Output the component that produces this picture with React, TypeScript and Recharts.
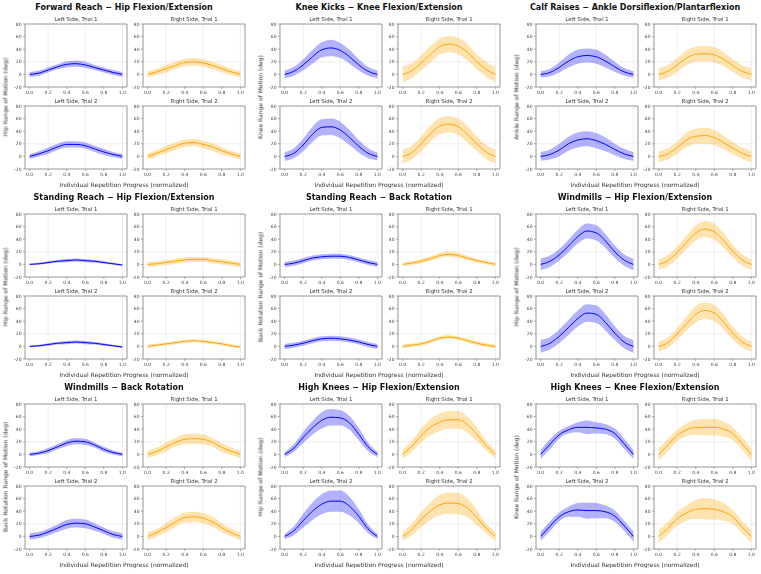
import {
  ComposedChart,
  Area,
  Line,
  XAxis,
  YAxis,
  CartesianGrid,
  ReferenceLine,
} from 'recharts'

const X_VALUES = [0, 0.1, 0.2, 0.3, 0.4, 0.5, 0.6, 0.7, 0.8, 0.9, 1.0]
const X_TICKS = [0, 0.2, 0.4, 0.6, 0.8, 1.0]
const Y_TICKS = [-20, 0, 20, 40, 60, 80]
const PANEL_TITLES = ['Left Side, Trial 1', 'Right Side, Trial 1', 'Left Side, Trial 2', 'Right Side, Trial 2']

// each block: [left t1, right t1, left t2, right t2]
const FORWARD_REACH_HIP_MEAN = [
  [0, 2, 7, 12, 16, 17, 15, 11, 7, 3, 0],
  [0, 4, 9, 14, 19, 20, 18, 14, 9, 4, 0],
  [0, 4, 9, 15, 19, 19, 17, 12, 7, 3, 0],
  [0, 5, 11, 16, 21, 22, 19, 15, 9, 4, 0],
]
const FORWARD_REACH_HIP_SD = [
  [4, 4, 4, 4, 5, 5, 5, 4, 4, 4, 4],
  [5, 5, 6, 6, 6, 6, 6, 6, 6, 5, 5],
  [4, 4, 5, 5, 5, 5, 5, 5, 5, 4, 4],
  [5, 5, 6, 6, 6, 6, 6, 6, 6, 5, 5],
]

const KNEE_KICKS_KNEE_MEAN = [
  [0, 5, 15, 28, 39, 42, 38, 28, 15, 5, 0],
  [0, 6, 18, 32, 44, 48, 45, 35, 20, 8, 0],
  [0, 5, 18, 35, 46, 47, 42, 30, 16, 5, 0],
  [0, 6, 20, 36, 48, 51, 47, 35, 20, 7, 0],
]
const KNEE_KICKS_KNEE_SD = [
  [6, 7, 9, 11, 12, 13, 12, 11, 9, 7, 6],
  [12, 12, 12, 13, 13, 13, 13, 13, 12, 12, 12],
  [7, 8, 10, 12, 13, 13, 13, 12, 10, 8, 6],
  [11, 11, 12, 13, 13, 13, 13, 13, 12, 11, 11],
]

const CALF_RAISES_ANKLE_MEAN = [
  [0, 3, 11, 21, 28, 30, 28, 21, 12, 4, 0],
  [0, 5, 15, 26, 32, 33, 31, 24, 14, 5, 0],
  [0, 3, 10, 20, 26, 28, 25, 19, 11, 4, 0],
  [0, 4, 14, 26, 32, 33, 30, 22, 13, 5, 0],
]
const CALF_RAISES_ANKLE_SD = [
  [5, 6, 8, 10, 11, 11, 11, 10, 8, 6, 5],
  [10, 10, 11, 12, 12, 12, 12, 11, 10, 10, 10],
  [7, 8, 10, 11, 12, 12, 12, 11, 9, 8, 7],
  [9, 9, 10, 12, 12, 13, 12, 11, 10, 9, 9],
]

const STANDING_REACH_HIP_MEAN = [
  [0, 1, 3, 5, 6, 7, 6, 5, 3, 1, -1],
  [0, 1, 3, 5, 7, 8, 8, 6, 4, 2, 0],
  [0, 1, 3, 5, 6, 7, 6, 5, 3, 1, -1],
  [0, 2, 4, 6, 8, 9, 8, 6, 4, 1, -1],
]
const STANDING_REACH_HIP_SD = [
  [1.5, 1.5, 2, 2, 2.5, 2.5, 2.5, 2, 2, 1.5, 1.5],
  [4, 4, 4, 4, 4, 4, 4, 4, 4, 4, 4],
  [1.5, 1.5, 2, 2, 2.5, 2.5, 2.5, 2, 2, 1.5, 1.5],
  [2.5, 2.5, 2.5, 2.5, 2.5, 2.5, 2.5, 2.5, 2.5, 2.5, 2.5],
]

const STANDING_REACH_BACK_MEAN = [
  [0, 2, 6, 10, 12, 13, 13, 11, 7, 3, 0],
  [0, 2, 5, 9, 14, 16, 14, 10, 6, 3, 0],
  [0, 2, 5, 9, 12, 13, 12, 10, 7, 3, 0],
  [0, 2, 4, 8, 13, 15, 13, 9, 5, 2, 0],
]
const STANDING_REACH_BACK_SD = [
  [4, 4, 4, 4, 4, 4, 4, 4, 4, 4, 4],
  [3, 3, 3, 3.5, 4, 4, 4, 3.5, 3, 3, 3],
  [4, 4, 4, 4, 4, 4, 4, 4, 4, 4, 4],
  [3, 3, 3, 3, 3, 3, 3, 3, 3, 3, 3],
]

const WINDMILLS_HIP_MEAN = [
  [0, 5, 15, 29, 44, 53, 50, 37, 20, 7, 0],
  [0, 6, 19, 35, 50, 56, 52, 38, 21, 7, 0],
  [0, 5, 16, 30, 44, 53, 51, 38, 21, 7, 0],
  [0, 6, 20, 36, 51, 57, 53, 39, 21, 7, 0],
]
const WINDMILLS_HIP_SD = [
  [9, 9, 9, 10, 11, 12, 12, 11, 10, 9, 9],
  [8, 9, 10, 11, 12, 13, 13, 12, 10, 9, 8],
  [10, 10, 11, 12, 13, 14, 14, 13, 11, 10, 10],
  [8, 8, 9, 11, 13, 13, 13, 12, 10, 9, 8],
]

const WINDMILLS_BACK_MEAN = [
  [0, 2, 6, 12, 18, 21, 20, 15, 8, 3, 0],
  [0, 5, 12, 19, 24, 25, 24, 19, 11, 5, 0],
  [0, 2, 7, 13, 19, 21, 20, 15, 9, 3, 0],
  [0, 6, 14, 23, 30, 31, 29, 23, 14, 6, 0],
]
const WINDMILLS_BACK_SD = [
  [3, 3, 4, 4, 5, 5, 5, 4, 4, 3, 3],
  [6, 6, 7, 7, 8, 8, 8, 7, 7, 6, 6],
  [5, 5, 5, 6, 7, 7, 7, 6, 5, 5, 5],
  [6, 6, 7, 8, 8, 8, 8, 8, 7, 6, 6],
]

const HIGH_KNEES_HIP_MEAN = [
  [0, 10, 27, 42, 54, 59, 58, 50, 32, 12, 0],
  [0, 13, 30, 43, 51, 55, 55, 47, 32, 14, 0],
  [0, 9, 25, 40, 51, 56, 56, 48, 32, 12, 0],
  [0, 11, 27, 40, 50, 53, 52, 45, 30, 13, 0],
]
const HIGH_KNEES_HIP_SD = [
  [4, 6, 9, 11, 13, 13, 12, 11, 10, 7, 4],
  [7, 9, 11, 13, 14, 14, 14, 13, 11, 8, 6],
  [4, 7, 11, 14, 16, 17, 17, 15, 11, 7, 4],
  [7, 9, 12, 14, 16, 17, 17, 15, 12, 8, 7],
]

const HIGH_KNEES_KNEE_MEAN = [
  [0, 16, 31, 39, 43, 43, 42, 40, 33, 17, 0],
  [0, 15, 30, 39, 43, 43, 43, 40, 33, 17, 0],
  [0, 16, 31, 39, 42, 41, 41, 39, 32, 17, 0],
  [0, 13, 28, 37, 43, 44, 43, 39, 31, 15, 0],
]
const HIGH_KNEES_KNEE_SD = [
  [7, 8, 6, 6, 8, 11, 9, 8, 8, 8, 7],
  [10, 10, 9, 10, 12, 13, 13, 12, 10, 10, 10],
  [7, 8, 7, 8, 11, 13, 12, 10, 9, 8, 8],
  [10, 10, 11, 12, 15, 17, 16, 14, 11, 10, 10],
]

const GROUPS = [
  { title: 'Forward Reach − Hip Flexion/Extension', ylabel: 'Hip Range of Motion (deg)', mean: FORWARD_REACH_HIP_MEAN, sd: FORWARD_REACH_HIP_SD },
  { title: 'Knee Kicks − Knee Flexion/Extension', ylabel: 'Knee Range of Motion (deg)', mean: KNEE_KICKS_KNEE_MEAN, sd: KNEE_KICKS_KNEE_SD },
  { title: 'Calf Raises − Ankle Dorsiflexion/Plantarflexion', ylabel: 'Ankle Range of Motion (deg)', mean: CALF_RAISES_ANKLE_MEAN, sd: CALF_RAISES_ANKLE_SD },
  { title: 'Standing Reach − Hip Flexion/Extension', ylabel: 'Hip Range of Motion (deg)', mean: STANDING_REACH_HIP_MEAN, sd: STANDING_REACH_HIP_SD },
  { title: 'Standing Reach − Back Rotation', ylabel: 'Back Rotation Range of Motion (deg)', mean: STANDING_REACH_BACK_MEAN, sd: STANDING_REACH_BACK_SD },
  { title: 'Windmills − Hip Flexion/Extension', ylabel: 'Hip Range of Motion (deg)', mean: WINDMILLS_HIP_MEAN, sd: WINDMILLS_HIP_SD },
  { title: 'Windmills − Back Rotation', ylabel: 'Back Rotation Range of Motion (deg)', mean: WINDMILLS_BACK_MEAN, sd: WINDMILLS_BACK_SD },
  { title: 'High Knees − Hip Flexion/Extension', ylabel: 'Hip Range of Motion (deg)', mean: HIGH_KNEES_HIP_MEAN, sd: HIGH_KNEES_HIP_SD },
  { title: 'High Knees − Knee Flexion/Extension', ylabel: 'Knee Range of Motion (deg)', mean: HIGH_KNEES_KNEE_MEAN, sd: HIGH_KNEES_KNEE_SD },
]

const FONT = '"DejaVu Sans", sans-serif'
const GROUP_LEFT = [25, 280, 536]
const GROUP_TOP = [24, 214, 404]
const PLOT_W = 102
const PLOT_H = 63
const COL_STEP = 118
const ROW_STEP = 82
const AXIS_W = 22
const AXIS_H = 12
const PAD = 3

function Panel({ mean, sd, color, left, top, title }: {
  mean: number[]
  sd: number[]
  color: string
  left: number
  top: number
  title: string
}) {
  const data = X_VALUES.map((x, i) => ({
    x,
    mean: mean[i],
    band: [mean[i] - sd[i], mean[i] + sd[i]],
  }))

  return (
    <>
      <div
        style={{
          position: 'absolute',
          left: left + PLOT_W / 2,
          top: top - 5,
          transform: 'translate(-50%, -50%)',
          fontSize: 5.4,
          color: '#333',
          whiteSpace: 'nowrap',
        }}
      >
        {title}
      </div>
      <div style={{ position: 'absolute', left: left - AXIS_W, top: top - PAD }}>
        <ComposedChart
          width={PLOT_W + AXIS_W + PAD}
          height={PLOT_H + PAD + AXIS_H}
          data={data}
          margin={{ top: PAD, right: PAD, left: 0, bottom: 0 }}
        >
          <CartesianGrid stroke="#e4e4e4" strokeWidth={0.6} />
          <XAxis
            dataKey="x"
            type="number"
            domain={[-0.05, 1.05]}
            ticks={X_TICKS}
            tickFormatter={(v) => v.toFixed(1)}
            height={AXIS_H}
            tick={{ fontSize: 4.5, fill: '#444', fontFamily: FONT }}
            tickSize={2}
            tickMargin={1.5}
            tickLine={{ stroke: '#777', strokeWidth: 0.6 }}
            axisLine={false}
          />
          <YAxis
            type="number"
            domain={[-20, 80]}
            ticks={Y_TICKS}
            width={AXIS_W}
            tick={{ fontSize: 4.5, fill: '#444', fontFamily: FONT }}
            tickSize={2}
            tickMargin={1.5}
            tickLine={{ stroke: '#777', strokeWidth: 0.6 }}
            axisLine={false}
          />
          <Area
            type="monotone"
            dataKey="band"
            fill={color}
            fillOpacity={0.3}
            stroke="none"
            isAnimationActive={false}
          />
          <Line
            type="monotone"
            dataKey="mean"
            stroke={color}
            strokeWidth={1}
            dot={false}
            isAnimationActive={false}
          />
          {/* frame */}
          <ReferenceLine x={-0.05} stroke="#888" strokeWidth={0.8} />
          <ReferenceLine x={1.05} stroke="#888" strokeWidth={0.8} />
          <ReferenceLine y={-20} stroke="#888" strokeWidth={0.8} />
          <ReferenceLine y={80} stroke="#888" strokeWidth={0.8} />
        </ComposedChart>
      </div>
    </>
  )
}

const labelStyle = {
  position: 'absolute' as const,
  fontSize: 6,
  color: '#333',
  whiteSpace: 'nowrap' as const,
  willChange: 'transform',
}

export default function App() {
  return (
    <div
      style={{
        position: 'absolute',
        left: 0,
        top: 0,
        width: 761,
        height: 574,
        background: '#fff',
        fontFamily: FONT,
        overflow: 'hidden',
      }}
    >
      {GROUPS.map((group, g) => {
        const gx = GROUP_LEFT[g % 3]
        const gy = GROUP_TOP[Math.floor(g / 3)]
        const centerX = gx + 99
        return (
          <div key={group.title}>
            <div
              style={{
                position: 'absolute',
                left: centerX,
                top: gy - 17,
                transform: 'translate(-50%, -50%)',
                fontSize: 8,
                fontWeight: 'bold',
                color: '#111',
                whiteSpace: 'nowrap',
              }}
            >
              {group.title}
            </div>
            <div
              style={{
                ...labelStyle,
                left: gx - 20,
                top: gy + PLOT_H / 2 + ROW_STEP / 2,
                transform: 'translate(-50%, -50%) rotate(-90deg)',
              }}
            >
              {group.ylabel}
            </div>
            <div
              style={{
                ...labelStyle,
                left: centerX,
                top: gy + 160,
                transform: 'translate(-50%, -50%)',
              }}
            >
              Individual Repetition Progress (normalized)
            </div>
            {PANEL_TITLES.map((title, p) => (
              <Panel
                key={title}
                title={title}
                mean={group.mean[p]}
                sd={group.sd[p]}
                color={p % 2 === 0 ? '#0000ff' : '#ffa500'}
                left={gx + (p % 2) * COL_STEP}
                top={gy + Math.floor(p / 2) * ROW_STEP}
              />
            ))}
          </div>
        )
      })}
    </div>
  )
}
